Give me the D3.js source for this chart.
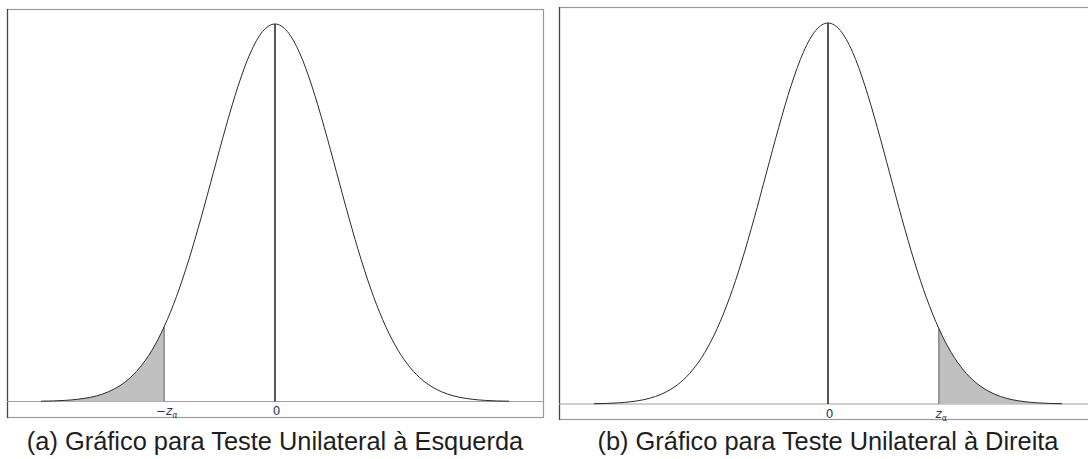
<!DOCTYPE html>
<html>
<head>
<meta charset="utf-8">
<script src="https://cdn.jsdelivr.net/npm/d3@7"></script>
<style>
  body { margin: 0; background: #fff; }
</style>
</head>
<body>
<svg id="chart" width="1088" height="459"></svg>
<script>
// z grid and standard normal density
var zGrid = [-3.8, -3.6, -3.4, -3.2, -3.0, -2.8, -2.6, -2.4, -2.2, -2.0,
             -1.8, -1.6, -1.4, -1.2, -1.0, -0.8, -0.6, -0.4, -0.2, 0.0,
             0.2, 0.4, 0.6, 0.8, 1.0, 1.2, 1.4, 1.6, 1.8, 2.0,
             2.2, 2.4, 2.6, 2.8, 3.0, 3.2, 3.4, 3.6, 3.8];
var density = [0.0003, 0.0006, 0.0012, 0.0024, 0.0044, 0.0079, 0.0136, 0.0224, 0.0355, 0.0540,
               0.0790, 0.1109, 0.1497, 0.1942, 0.2420, 0.2897, 0.3332, 0.3683, 0.3910, 0.3989,
               0.3910, 0.3683, 0.3332, 0.2897, 0.2420, 0.1942, 0.1497, 0.1109, 0.0790, 0.0540,
               0.0355, 0.0224, 0.0136, 0.0079, 0.0044, 0.0024, 0.0012, 0.0006, 0.0003];

var cutValues = [-1.8, 1.8];
var tickMain = ["\u2212z", "z"];
var tickSub = ["\u03b1", "\u03b1"];
var captions = ["(a) Gráfico para Teste Unilateral à Esquerda",
                "(b) Gráfico para Teste Unilateral à Direita"];

var data = zGrid.map(function (z, i) { return {z: z, d: density[i]}; });

// panel frames (pixel layout)
var panels = [
    {box: [7, 9, 543, 417], x0: 41, x1: 509, base: 401.5, top: 24, side: "left"},
    {box: [559, 7, 1095, 419], x0: 594, x1: 1062, base: 404, top: 23, side: "right"}
];

var svg = d3.select("#chart");

panels.forEach(function (p, i) {
    var g = svg.append("g");
    var cut = cutValues[i];

    var x = d3.scaleLinear().domain([-3.8, 3.8]).range([p.x0, p.x1]);
    var y = d3.scaleLinear().domain([0, 0.3989]).range([p.base, p.top]);

    // frame
    g.append("rect")
        .attr("x", p.box[0] + 0.5)
        .attr("y", p.box[1] + 0.5)
        .attr("width", p.box[2] - p.box[0])
        .attr("height", p.box[3] - p.box[1])
        .attr("fill", "none")
        .attr("stroke", "#9a9a9a")
        .attr("stroke-width", 1.2);
    g.append("line")
        .attr("x1", p.box[0] + 0.5).attr("x2", p.box[0] + 0.5)
        .attr("y1", p.box[1]).attr("y2", p.box[3] + 1)
        .attr("stroke", "#444").attr("stroke-width", 1.2);

    // baseline across the frame
    g.append("line")
        .attr("x1", p.box[0]).attr("x2", p.box[2])
        .attr("y1", p.base).attr("y2", p.base)
        .attr("stroke", "#a0a0a0")
        .attr("stroke-width", 1.2);

    // shaded tail
    var tail = data.filter(function (d) {
        return p.side === "left" ? d.z <= cut + 1e-9 : d.z >= cut - 1e-9;
    });
    var area = d3.area()
        .x(function (d) { return x(d.z); })
        .y0(y(0))
        .y1(function (d) { return y(d.d); })
        .curve(d3.curveMonotoneX);
    g.append("path")
        .datum(tail)
        .attr("d", area)
        .attr("fill", "#c0c0c0");

    // cut line
    var cutD = data.filter(function (d) { return Math.abs(d.z - cut) < 1e-9; })[0];
    g.append("line")
        .attr("x1", x(cut)).attr("x2", x(cut))
        .attr("y1", y(0)).attr("y2", y(cutD.d))
        .attr("stroke", "#7a7a7a")
        .attr("stroke-width", 1.3);

    // centre line
    g.append("line")
        .attr("x1", x(0)).attr("x2", x(0))
        .attr("y1", y(0)).attr("y2", y(0.3989))
        .attr("stroke", "#111")
        .attr("stroke-width", 1.4);

    // density curve
    var line = d3.line()
        .x(function (d) { return x(d.z); })
        .y(function (d) { return y(d.d); })
        .curve(d3.curveMonotoneX);
    g.append("path")
        .datum(data)
        .attr("d", line)
        .attr("fill", "none")
        .attr("stroke", "#2a2a2a")
        .attr("stroke-width", 1);

    // tick labels, no tick marks
    var axis = g.append("g")
        .attr("transform", "translate(0," + p.base + ")")
        .call(d3.axisBottom(x).tickValues([cut, 0]).tickSize(0).tickFormat(""));
    axis.select(".domain").remove();
    axis.selectAll("text").remove();

    axis.selectAll(".tick").append("text")
        .attr("y", 13.5)
        .attr("text-anchor", "middle")
        .attr("fill", "#2c3752")
        .style("font-family", "'DejaVu Sans', sans-serif")
        .style("font-size", "12px")
        .each(function (v) {
            var t = d3.select(this);
            if (v === 0) {
                t.attr("dx", 1).text("0");
            } else {
                t.attr("dx", 2);
                t.append("tspan").attr("font-style", "italic").text(tickMain[i]);
                t.append("tspan").attr("dy", 3).style("font-size", "8px").text(tickSub[i]);
            }
        });

    // caption
    svg.append("text")
        .attr("x", x(0))
        .attr("y", 450)
        .attr("text-anchor", "middle")
        .attr("fill", "#1e1e1e")
        .style("font-family", "'Liberation Sans', Arial, sans-serif")
        .style("font-size", "25.4px")
        .text(captions[i]);
});
</script>
</body>
</html>
